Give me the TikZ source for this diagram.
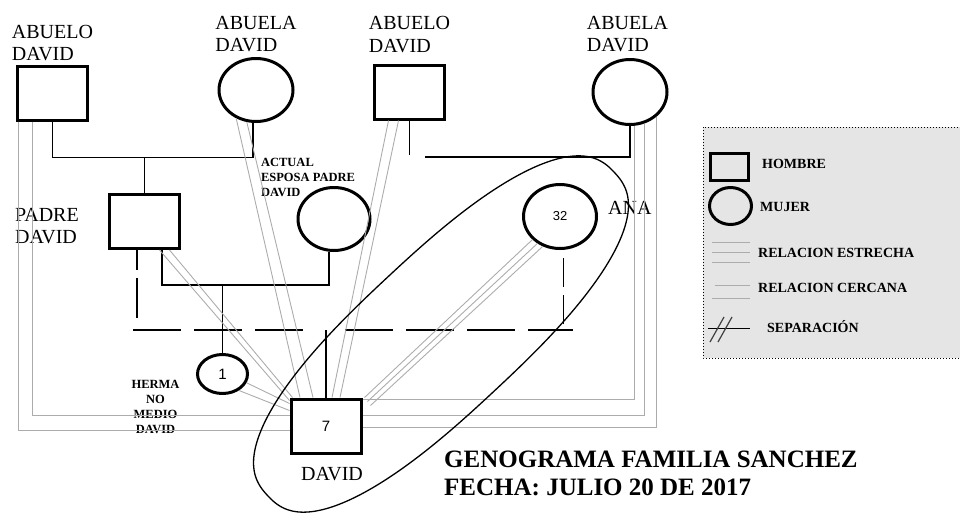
\documentclass[tikz,border=0pt]{standalone}
\usepackage{fontspec}
\setmainfont{Liberation Serif}
\newfontfamily\cifras{Liberation Sans}
\usepackage{tikz}
\usetikzlibrary{calc}
\usetikzlibrary{positioning}
\usetikzlibrary{shapes.geometric}
\tikzstyle{hombre} = [draw,line width=3pt,minimum width=70pt,minimum height=54pt,inner sep=0pt,font=\cifras\fontsize{15}{17}\selectfont]
\tikzstyle{mujer} = [draw,ellipse,line width=3pt,minimum width=74pt,minimum height=63pt,inner sep=0pt,font=\cifras\fontsize{15}{17}\selectfont]
\tikzstyle{rotulo} = [inner sep=0pt,align=left,font=\fontsize{20}{22.5}\selectfont]
\tikzstyle{nota} = [inner sep=0pt,align=left,font=\bfseries\fontsize{12.5}{15}\selectfont]
\tikzstyle{leyenda} = [inner sep=0pt,anchor=west,font=\bfseries\fontsize{14}{15}\selectfont]
\tikzstyle{titulo} = [inner sep=0pt,anchor=base west,font=\bfseries\fontsize{25}{27}\selectfont]
\tikzstyle{union} = [line width=1.2pt]
\tikzstyle{divorcio} = [line width=1.2pt,dash pattern=on 48pt off 13pt]
\tikzstyle{vinculo} = [gray!65,line width=0.9pt]

\begin{document}
\begin{tikzpicture}[x=1pt,y=-1pt]
	\useasboundingbox (0,0) rectangle (960,512);
	\node[hombre] (abueloA) at (52.5,93) {};
	\node[mujer] (abuelaA) at (256,90) {};
	\node[hombre] (abueloB) at (409.5,92) {};
	\node[mujer,minimum height=65pt] (abuelaB) at (630,92) {};
	\node[hombre] (padre) at (144.5,221.5) {};
	\node[mujer,minimum width=72pt] (esposa) at (334,219) {};
	\node[mujer,minimum width=73pt,minimum height=64pt] (ana) at (560,216.5) {\fontsize{13}{15}\selectfont 32};
	\node[mujer,minimum width=50pt,minimum height=39pt] (hermana) at (222.5,374) {1};
	\node[hombre] (david) at (326,426) {7};
	\node[rotulo,above=3.5pt of abueloA] (rotAbueloA) {ABUELO\\DAVID};
	\node[rotulo,above=5pt of abuelaA] (rotAbuelaA) {ABUELA\\DAVID};
	\node[rotulo,above=11pt of abueloB] (rotAbueloB) {ABUELO\\DAVID};
	\node[rotulo,above=6pt of abuelaB,xshift=-2.5pt] (rotAbuelaB) {ABUELA\\DAVID};
	\node[rotulo,left=29pt of padre,yshift=-4.5pt] (rotPadre) {PADRE\\DAVID};
	\node[rotulo,right=10pt of ana,yshift=9pt] (rotAna) {ANA};
	\node[rotulo,below=13pt of david,xshift=6pt] (rotDavid) {DAVID};
	\node[nota] (rotEsposa) at (308,177) {ACTUAL\\ESPOSA PADRE\\DAVID};
	\node[nota,align=center] (rotHermana) at (155.5,407) {HERMA\\NO\\MEDIO\\DAVID};
	\draw[union] (abueloA.south) -- ++(0,36) coordinate (uA) -| ([xshift=-3pt]abuelaA.south);
	\draw[union] (padre.north) -- (padre.north |- uA);
	\draw[union] (abueloB.south) -- ++(0,34);
	\draw[union] (abuelaB.south) -- ++(0,31) -- ++(-205,0);
	\draw[union] ([xshift=17.5pt]padre.south) -- ++(0,35) coordinate (uB) -| ([xshift=-5pt]esposa.south);
	\draw[union] (hermana.north) -- (hermana.north |- uB);
	\coordinate (sepL) at (133,330);
	\coordinate (sepR) at (573,330);
	\coordinate (hijo) at (david.north |- sepL);
	\draw[divorcio,dash pattern=on 40pt off 8pt,dash phase=20pt] ([xshift=-7.5pt]padre.south) -- ++(0,70);
	\draw[divorcio] (sepL) -- ([xshift=-22pt]hijo);
	\draw[divorcio] ([xshift=19pt]hijo) -- (sepR);
	\draw[divorcio,dash pattern=on 29pt off 8pt] ([xshift=3.5pt,yshift=-8pt]ana.south) -- ++(0,66);
	\draw[union] (david.north) -- (hijo);
	\draw[vinculo] ([xshift=2pt]abueloA.south west) |- ([yshift=-4pt]david.west);
	\draw[vinculo] ([xshift=16pt]abueloA.south west) |- ([yshift=11pt]david.west);
	\draw[vinculo] (abuelaA.-125) -- ([xshift=-26pt]david.north);
	\draw[vinculo] (abuelaA.-106) -- ([xshift=-13pt]david.north);
	\draw[vinculo] ([xshift=-21pt]abueloB.south) -- ([xshift=6pt]david.north);
	\draw[vinculo] ([xshift=-11pt]abueloB.south) -- ([xshift=14pt]david.north);
	\draw[vinculo] (abuelaB.-83) |- ([yshift=-2pt]david.north east);
	\draw[vinculo] (abuelaB.-66) |- ([yshift=11pt]david.east);
	\draw[vinculo] (abuelaB.-44) |- ([yshift=-1pt]david.east);
	\draw[vinculo] (ana.-140) -- ([shift={(2,0)}]david.north east);
	\draw[vinculo] (ana.-130) -- ([shift={(5,4)}]david.north east);
	\draw[vinculo] (ana.-120) -- ([shift={(8,8)}]david.north east);
	\draw[vinculo] ([xshift=15pt]padre.south) -- ([yshift=-3pt]david.north west);
	\draw[vinculo] ([xshift=25pt]padre.south) -- ([xshift=3pt]david.north west);
	\draw[vinculo] (hermana.-20) -- ([yshift=-6pt]david.north west);
	\draw[vinculo] (hermana.-45) -- ([yshift=-13pt]david.north west);
	\draw[line width=1.3pt,rotate around={43:(441,334)}] plot[domain=1.5:358.5,samples=120,smooth cycle,variable=\t] ({441+237*cos(\t)*pow(abs(cos(\t)),-0.2)},{334+78*sin(\t)*pow(abs(sin(\t)),-0.2)});
	\draw[dotted,line width=1pt,fill=black!10] (703,127) rectangle (964,358);
	\node[hombre,minimum width=38pt,minimum height=27pt] (simHombre) at (729,167) {};
	\node[mujer,minimum width=42pt,minimum height=37pt] (simMujer) at (730.5,206) {};
	\node[leyenda] (txtHombre) at (762,164) {HOMBRE};
	\node[leyenda] (txtMujer) at (760,207) {MUJER};
	\coordinate (estrechaA) at (712,242);
	\coordinate (estrechaB) at (712,252);
	\coordinate (estrechaC) at (712,262);
	\draw[vinculo] (estrechaA) -- ++(38,0);
	\draw[vinculo] (estrechaB) -- ++(38,0);
	\draw[vinculo] (estrechaC) -- ++(38,0);
	\node[leyenda] (txtEstrecha) at (758,252.5) {RELACION ESTRECHA};
	\coordinate (cercanaA) at (715,285);
	\coordinate (cercanaB) at (712,298);
	\draw[vinculo] (cercanaA) -- ++(35,0);
	\draw[vinculo] (cercanaB) -- ++(38,0);
	\node[leyenda] (txtCercana) at (758,288) {RELACION CERCANA};
	\coordinate (sepA) at (708,328);
	\draw[line width=1pt] (sepA) -- ++(42,0);
	\draw[line width=1.2pt,black!75] (710,342) -- (724,317);
	\draw[line width=1.2pt,black!75] (718,342) -- (732,317);
	\node[leyenda] (txtSeparacion) at (767,327) {SEPARACIÓN};
	\node[titulo] (titulo) at (444,467) {GENOGRAMA FAMILIA SANCHEZ};
	\node[titulo] (fecha) at (444,495) {FECHA: JULIO 20 DE 2017};
\end{tikzpicture}
\end{document}
